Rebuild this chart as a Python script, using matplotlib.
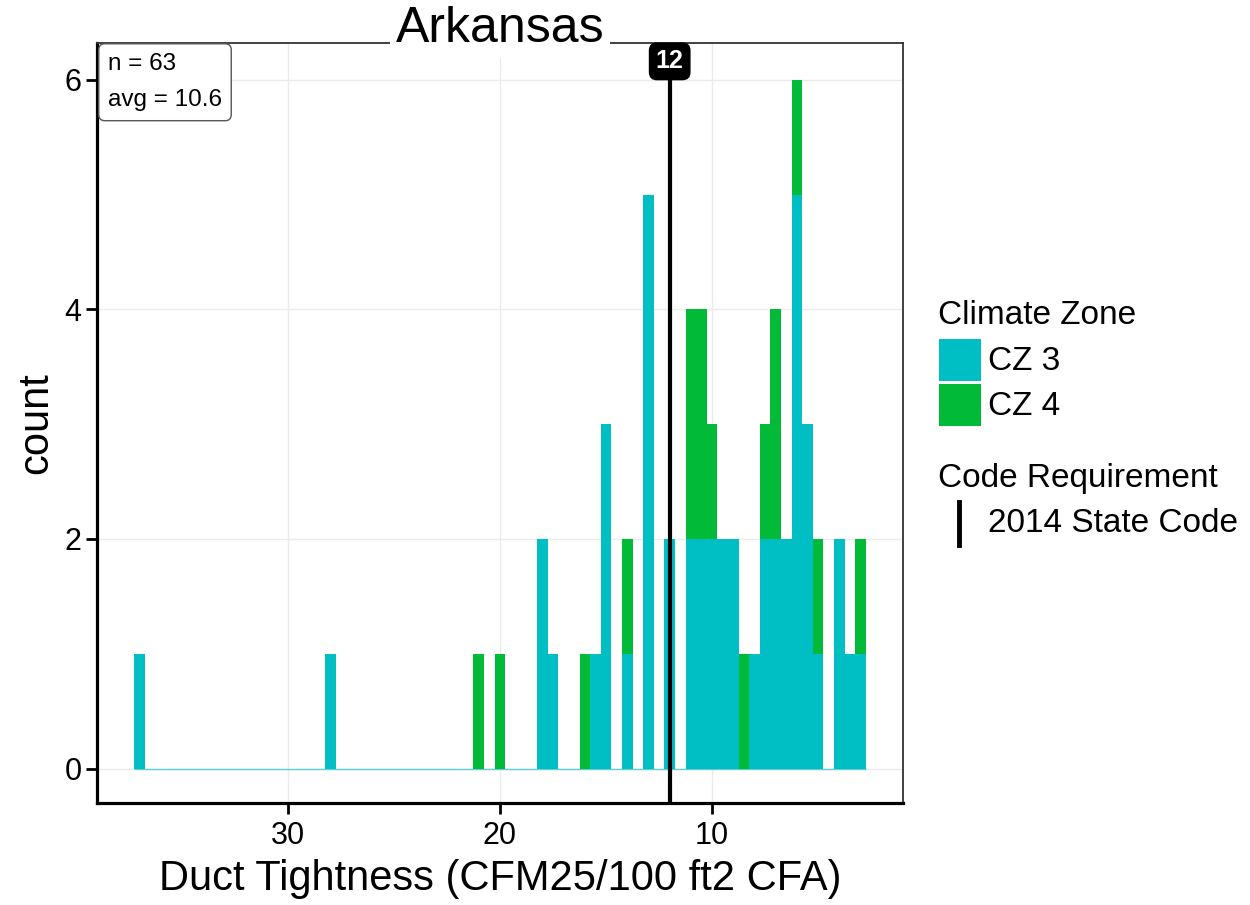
import matplotlib
matplotlib.use("Agg")
import matplotlib.pyplot as plt
from matplotlib.patches import Rectangle
from matplotlib.lines import Line2D

plt.rcParams['font.family'] = ['Liberation Sans', 'DejaVu Sans']

# ---- data ----
bin_centers = [37, 28, 21, 20, 18, 17.5, 16, 15.5, 15, 14, 13, 12, 11, 10.5, 10,
               9.5, 9, 8.5, 8, 7.5, 7, 6.5, 6, 5.5, 5, 4, 3.5, 3]
cz3_counts = [1, 1, 0, 0, 2, 1, 0, 1, 3, 1, 5, 2, 2, 2, 2,
              2, 2, 0, 1, 2, 2, 2, 5, 3, 1, 2, 1, 1]
cz4_counts = [0, 0, 1, 1, 0, 0, 1, 0, 0, 1, 0, 0, 2, 2, 1,
              0, 0, 1, 0, 1, 2, 0, 1, 0, 1, 0, 0, 1]
bin_width = 0.5
code_value = 12
code_label = "2014 State Code"
title = "Arkansas"
n_text = "n = 63"
avg_text = "avg = 10.6"
x_ticks = [30, 20, 10]
y_ticks = [0, 2, 4, 6]

c3 = '#00BFC4'
c4 = '#00BA38'

fig = plt.figure(figsize=(12.5, 9.05), dpi=100)
ax = fig.add_axes([97/1250, 1-803/905, (903-97)/1250, (803-43)/905])

ax.set_xlim(39.0, 1.0)
ax.set_ylim(-0.30, 6.32)

ax.grid(True, color='#EBEBEB', lw=1.0)
ax.set_axisbelow(True)

ax.hlines(0, min(bin_centers) - bin_width/2, max(bin_centers) + bin_width/2,
          color=c3, lw=1.0, alpha=0.6, zorder=2)
ax.bar(bin_centers, cz3_counts, width=bin_width, color=c3, lw=0, zorder=3)
ax.bar(bin_centers, cz4_counts, width=bin_width, bottom=cz3_counts, color=c4, lw=0, zorder=3)

ax.vlines(code_value, -0.30, 6.1, color='black', lw=3.0, zorder=4)
ax.text(code_value, 6.16, str(code_value), ha='center', va='center', color='white',
        fontsize=18, fontweight='bold', zorder=5,
        bbox=dict(boxstyle='round,pad=0.25,rounding_size=0.3', fc='black', ec='black'))

ax.annotate(n_text + "\n" + avg_text, xy=(0, 1), xycoords='axes fraction',
            xytext=(11, -10), textcoords='offset pixels', ha='left', va='top',
            fontsize=17.5, linespacing=1.85, zorder=6,
            bbox=dict(boxstyle='round,pad=0.38,rounding_size=0.25', fc='white', ec='#555555', lw=1.0))

ax.set_xticks(x_ticks)
ax.set_xticklabels([str(t) for t in x_ticks])
ax.set_yticks(y_ticks)
ax.set_yticklabels([str(t) for t in y_ticks])
ax.tick_params(axis='both', labelsize=22, length=8, width=2, color='black')
ax.tick_params(axis='x', pad=5)
ax.tick_params(axis='y', pad=3)

for s in ['left', 'bottom']:
    ax.spines[s].set_linewidth(2.3)
    ax.spines[s].set_color('black')
for s in ['top', 'right']:
    ax.spines[s].set_linewidth(1.3)
    ax.spines[s].set_color('#333333')

ax.set_xlabel("Duct Tightness (CFM25/100 ft2 CFA)", fontsize=30, labelpad=6)
ax.set_ylabel("count", fontsize=30, labelpad=6)
ax.annotate(title, xy=(0.5, 1.0), xycoords='axes fraction', xytext=(0, 1),
            textcoords='offset pixels', ha='center', va='baseline', fontsize=36,
            bbox=dict(fc='white', ec='none', boxstyle='square,pad=0.12'), zorder=10,
            annotation_clip=False)

# ---- legend (manual) ----
def fx(px):
    return px / 1250
def fy(py):
    return 1 - py / 905

fig.text(fx(938), fy(316), "Climate Zone", fontsize=24, va='center', ha='left')
fig.patches.append(Rectangle((fx(939), fy(381)), 42/1250, 42/905, transform=fig.transFigure,
                             fc=c3, ec='none'))
fig.text(fx(988), fy(361), "CZ 3", fontsize=24, va='center', ha='left')
fig.patches.append(Rectangle((fx(939), fy(426)), 42/1250, 42/905, transform=fig.transFigure,
                             fc=c4, ec='none'))
fig.text(fx(988), fy(406), "CZ 4", fontsize=24, va='center', ha='left')
fig.text(fx(938), fy(479), "Code Requirement", fontsize=24, va='center', ha='left')
fig.lines.append(Line2D([fx(959), fx(959)], [fy(502), fy(545)], transform=fig.transFigure,
                        color='black', lw=3.5))
fig.text(fx(988), fy(523), code_label, fontsize=24, va='center', ha='left')

fig.savefig("out.png", dpi=100, facecolor='white')
